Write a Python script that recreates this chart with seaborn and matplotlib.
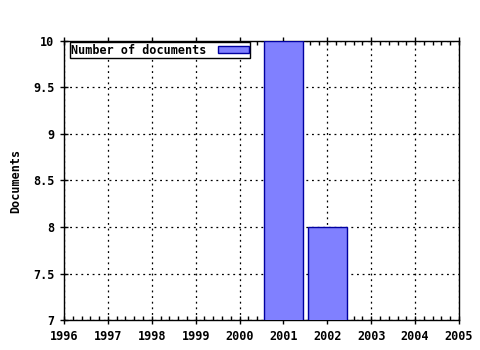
import matplotlib
matplotlib.use("Agg")
import matplotlib.pyplot as plt
from matplotlib.ticker import AutoMinorLocator
from matplotlib.patches import Patch
import seaborn as sns
import pandas as pd

years = [2001, 2002]
documents = [10, 8]
x_ticks = [1996, 1997, 1998, 1999, 2000, 2001, 2002, 2003, 2004, 2005]
y_ticks = [7, 7.5, 8, 8.5, 9, 9.5, 10]
y_labels = ["7", "7.5", "8", "8.5", "9", "9.5", "10"]
series_label = "Number of documents"

sns.set_theme(style="white")
plt.rcParams['font.family'] = ['DejaVu Sans Mono', 'DejaVu Sans']
plt.rcParams['font.weight'] = 'bold'
plt.rcParams['text.color'] = 'black'
plt.rcParams['xtick.color'] = 'black'
plt.rcParams['ytick.color'] = 'black'
plt.rcParams['axes.labelcolor'] = 'black'

df = pd.DataFrame({"year": years, "docs": documents})

fig = plt.figure(figsize=(4.8, 3.5), dpi=100)
ax = fig.add_axes([0.1333, 0.0857, 0.8229, 0.7972])

sns.barplot(data=df, x="year", y="docs", native_scale=True, width=0.9,
            color="#8080ff", saturation=1, edgecolor="#0000a0", linewidth=1,
            ax=ax, zorder=3)

ax.set_xlim(1996, 2005)
ax.set_ylim(7, 10)
ax.set_xticks(x_ticks)
ax.set_xticklabels([str(v) for v in x_ticks], fontsize=8.5, fontweight='bold')
ax.set_yticks(y_ticks)
ax.set_yticklabels(y_labels, fontsize=8.5, fontweight='bold')
ax.xaxis.set_minor_locator(AutoMinorLocator(5))
ax.tick_params(axis='x', which='major', direction='inout', length=6, width=1,
               color='black', top=True, bottom=True, pad=4)
ax.tick_params(axis='x', which='minor', direction='in', length=3, width=1,
               color='black', top=True, bottom=True)
ax.tick_params(axis='y', which='major', direction='inout', length=6, width=1,
               color='black', left=True, pad=4)
ax.set_xlabel("")
ax.set_ylabel("Documents", fontsize=8.5, fontweight='bold', labelpad=8)

ax.grid(True, which='major', linestyle=(0, (1.5, 3)), color='black', linewidth=0.9, zorder=0)
ax.set_axisbelow(True)
for s in ax.spines.values():
    s.set_visible(True)
    s.set_color('black')
    s.set_linewidth(1)

handle = Patch(facecolor="#8080ff", edgecolor="#0000a0", linewidth=1)
leg = ax.legend([handle], [series_label], loc='upper left', bbox_to_anchor=(0.015, 0.995),
                markerfirst=False, frameon=True, fancybox=False, framealpha=1,
                prop={'family': 'DejaVu Sans Mono', 'weight': 'bold', 'size': 8.5},
                borderpad=0.1, handlelength=2.6, handleheight=0.6, handletextpad=1.0,
                borderaxespad=0)
leg.get_frame().set_edgecolor('black')
leg.get_frame().set_linewidth(1)

fig.savefig("out.png", dpi=100, facecolor='white')
